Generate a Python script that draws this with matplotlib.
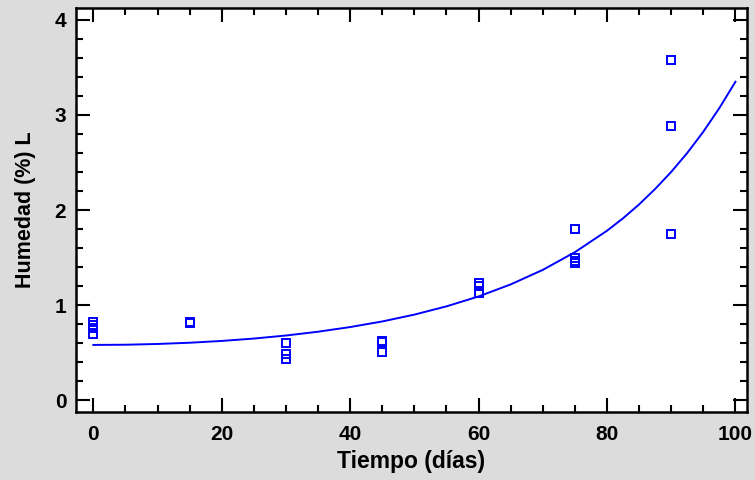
import matplotlib
matplotlib.use("Agg")
import matplotlib.pyplot as plt
from matplotlib.ticker import MultipleLocator

plt.rcParams['font.family'] = ['Liberation Sans', 'DejaVu Sans']

# observed data
days = [0, 0, 0, 0, 15, 15, 30, 30, 30, 45, 45, 45, 60, 60, 60, 75, 75, 75, 75, 90, 90, 90]
humidity = [0.82, 0.79, 0.76, 0.69, 0.82, 0.81, 0.60, 0.48, 0.43, 0.62, 0.61, 0.51,
            1.23, 1.20, 1.13, 1.80, 1.49, 1.46, 1.44, 3.58, 2.88, 1.75]

# fitted curve
curve_x = [0, 5, 10, 15, 20, 25, 30, 35, 40, 45, 50, 55, 60, 65, 70, 75, 80, 82.5, 85,
           87.5, 90, 92.5, 95, 97.5, 100]
curve_y = [0.580, 0.582, 0.590, 0.603, 0.622, 0.647, 0.679, 0.719, 0.768, 0.827, 0.899,
           0.986, 1.090, 1.217, 1.370, 1.556, 1.782, 1.913, 2.059, 2.222, 2.401, 2.601,
           2.824, 3.073, 3.350]

x_label = "Tiempo (días)"
y_label = "Humedad (%) L"

blue = "#0000ff"
bg = "#dcdcdc"

fig = plt.figure(figsize=(7.55, 4.8), dpi=100, facecolor=bg)
ax = fig.add_axes([76/755, 68/480, (747-76)/755, (412-8)/480])
ax.set_facecolor("white")

ax.plot(curve_x, curve_y, color=blue, lw=1.4)
ax.plot(days, humidity, linestyle="none", marker="s", markersize=5.5,
        markerfacecolor="none", markeredgecolor=blue, markeredgewidth=1.4)

ax.set_xlim(-2.7, 101.8)
ax.set_ylim(-0.126, 4.126)
ax.xaxis.set_major_locator(MultipleLocator(20))
ax.xaxis.set_minor_locator(MultipleLocator(5))
ax.yaxis.set_major_locator(MultipleLocator(1))
ax.yaxis.set_minor_locator(MultipleLocator(0.2))

ax.tick_params(which="both", direction="in", top=True, right=True, width=1.5, color="black")
ax.tick_params(which="major", length=10, labelsize=15)
ax.tick_params(which="minor", length=5)
ax.tick_params(axis="x", which="major", pad=9)
ax.tick_params(axis="y", which="major", pad=7)
for lab in ax.get_xticklabels() + ax.get_yticklabels():
    lab.set_fontweight("bold")

for s in ax.spines.values():
    s.set_linewidth(1.8)
    s.set_color("black")

ax.set_xlabel(x_label, fontsize=16.5, fontweight="bold", labelpad=5)
ax.set_ylabel(y_label, fontsize=15.5, fontweight="bold", labelpad=13)

fig.savefig("out.png", dpi=100, facecolor=bg)
